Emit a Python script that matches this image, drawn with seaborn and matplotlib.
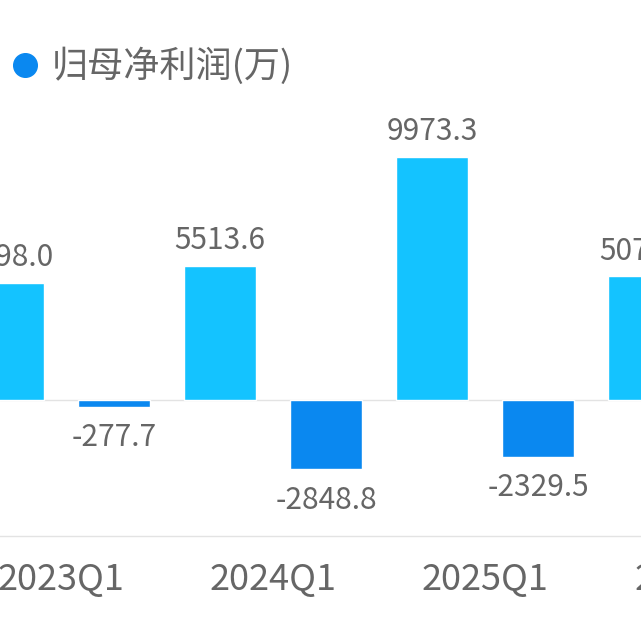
import numpy as np
import pandas as pd
import matplotlib
matplotlib.use("Agg")
import matplotlib.pyplot as plt
from matplotlib.lines import Line2D
import seaborn as sns

# net profit attributable to parent, in 10k yuan (bars left to right)
profit = [4798.0, -277.7, 5513.6, -2848.8, 9973.3, -2329.5, 5076.0]
tick_labels = ["2023Q1", "2024Q1", "2025Q1", "2026Q1"]
legend_label = "归母净利润(万)"

pos_color = "#14C3FF"
neg_color = "#0A88F0"
text_color = "#666666"
line_color = "#E3E3E3"

df = pd.DataFrame({"idx": np.arange(len(profit)), "value": profit})
df["sign"] = np.where(df["value"] >= 0, "pos", "neg")

sns.set_style("white")
plt.rcParams["font.family"] = ["Noto Sans CJK SC", "DejaVu Sans"]

# the view is a crop of a wider chart: let the axes run past the right edge
unit_px = 106.1
x0_px = 7.9
x_right = 7.0
fig = plt.figure(figsize=(6.41, 6.40), dpi=100)
ax = fig.add_axes([0, 1 - 536 / 640, (x0_px + unit_px * x_right) / 641, (536 - 100) / 640])

ax.axhline(0, color=line_color, lw=1, zorder=0)
sns.barplot(data=df, x="idx", y="value", hue="sign",
            palette={"pos": pos_color, "neg": neg_color},
            dodge=False, width=0.68, legend=False, saturation=1, ax=ax, zorder=2)

for i, v in enumerate(profit):
    if v >= 0:
        ax.annotate(f"{v:.1f}", (i, v), xytext=(0, 7), textcoords="offset points",
                    ha="center", va="bottom", fontsize=21.5, color=text_color,
                    annotation_clip=False)
    else:
        ax.annotate(f"{v:.1f}", (i, v), xytext=(0, -11), textcoords="offset points",
                    ha="center", va="top", fontsize=21.5, color=text_color,
                    annotation_clip=False)

ax.set_xticks([0.5, 2.5, 4.5, 6.5])
ax.set_xticklabels(tick_labels, fontsize=26, color=text_color)
ax.tick_params(axis="x", length=0, pad=19)
ax.set_yticks([])
ax.set_xlabel("")
ax.set_ylabel("")

ax.set_xlim(-x0_px / unit_px, x_right)
ax.set_ylim(-(536 - 400) / 0.02437, (400 - 100) / 0.02437)

for side in ["top", "left", "right"]:
    ax.spines[side].set_visible(False)
ax.spines["bottom"].set_color(line_color)
ax.spines["bottom"].set_linewidth(1)

# legend dot and label
fig.add_artist(Line2D([25 / 641], [1 - 65 / 640], marker="o", ls="",
                      markersize=17, color=neg_color, transform=fig.transFigure))
fig.text(52 / 641, 1 - 66 / 640, legend_label, fontsize=26, color=text_color,
         ha="left", va="center")

fig.savefig("out.png", dpi=100)
